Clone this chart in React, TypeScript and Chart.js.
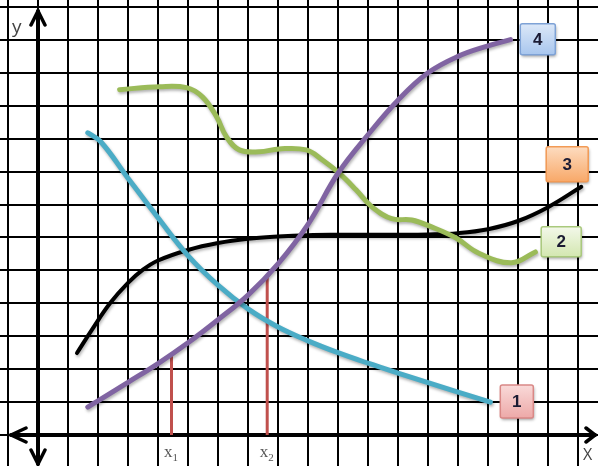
import React, { useEffect, useRef } from "react";
import { Chart, registerables } from "chart.js";

Chart.register(...registerables);

// ---- grid (in grid units) ----
const xGridValues = [-1, 0, 1, 2, 3, 4, 5, 6, 7, 8, 9, 10, 11, 12, 13, 14, 15, 16, 17, 18];
const yGridValues = [0, 1, 2, 3, 4, 5, 6, 7, 8, 9, 10, 11, 12, 13];

// ---- curves ----
const curve1X = [1.66, 2.1, 3.0, 4.0, 5.0, 6.0, 7.0, 8.0, 9.0, 10.0, 11.0, 12.0, 13.0, 14.0, 15.08];
const curve1Y = [9.18, 8.9, 7.8, 6.6, 5.45, 4.55, 3.83, 3.28, 2.86, 2.5, 2.18, 1.88, 1.59, 1.3, 1.0];

const curve2X = [2.72, 4.05, 4.95, 5.48, 5.95, 6.28, 6.71, 7.38, 8.04, 8.94, 9.47, 10.03, 10.6, 11.13, 11.79, 12.46, 13.12, 13.92, 14.68, 15.78, 16.58];
const curve2Y = [10.49, 10.58, 10.55, 10.27, 9.67, 9.06, 8.66, 8.6, 8.69, 8.66, 8.36, 7.96, 7.45, 6.93, 6.57, 6.53, 6.32, 5.99, 5.53, 5.23, 5.56];

const curve3X = [1.3, 1.8, 2.4, 3.0, 3.5, 4.0, 5.0, 6.0, 7.0, 8.0, 9.0, 10.0, 11.0, 12.0, 13.0, 14.0, 15.0, 16.0, 17.0, 18.11];
const curve3Y = [2.49, 3.2, 4.0, 4.62, 5.02, 5.3, 5.62, 5.83, 5.96, 6.03, 6.07, 6.08, 6.08, 6.08, 6.09, 6.13, 6.25, 6.5, 6.92, 7.54];

const curve4X = [1.66, 2.0, 3.0, 4.0, 5.0, 6.0, 7.0, 8.0, 9.0, 10.0, 11.0, 12.0, 13.0, 14.0, 15.0, 15.75];
const curve4Y = [0.85, 1.04, 1.6, 2.17, 2.8, 3.5, 4.25, 5.2, 6.4, 7.95, 9.12, 10.17, 11.0, 11.5, 11.82, 12.01];

const curveNames = ["1", "2", "3", "4"];

// ---- marked x positions ----
const markerX = [4.45, 7.64];
const markerTop = [2.45, 4.85];
const markerLabels = ["x", "x"];
const markerSubs = ["1", "2"];

const axisLabelY = "y";
const axisLabelX = "X";

const X_MIN = -38 / 30;
const X_MAX = (598 - 38) / 30;
const Y_STEP = (435 - 7) / 13;
const Y_MIN = -(466 - 435) / Y_STEP;
const Y_MAX = 435 / Y_STEP;

const pts = (xs: number[], ys: number[]) => xs.map((x, i) => ({ x, y: ys[i] }));

function roundRect(ctx: CanvasRenderingContext2D, x: number, y: number, w: number, h: number, r: number) {
  ctx.beginPath();
  ctx.moveTo(x + r, y);
  ctx.lineTo(x + w - r, y);
  ctx.quadraticCurveTo(x + w, y, x + w, y + r);
  ctx.lineTo(x + w, y + h - r);
  ctx.quadraticCurveTo(x + w, y + h, x + w - r, y + h);
  ctx.lineTo(x + r, y + h);
  ctx.quadraticCurveTo(x, y + h, x, y + h - r);
  ctx.lineTo(x, y + r);
  ctx.quadraticCurveTo(x, y, x + r, y);
  ctx.closePath();
}

export default function App() {
  const ref = useRef<HTMLCanvasElement>(null);

  useEffect(() => {
    const canvas = ref.current!;

    const boxStyles = [
      { cx: 15.96, cy: 1.02, w: 33, h: 33, top: "#F9DAD9", bottom: "#EDA9A8", border: "#D98886" },
      { cx: 17.44, cy: 5.87, w: 40, h: 30, top: "#F3F8EA", bottom: "#D3E7B0", border: "#A9C97C" },
      { cx: 17.64, cy: 8.22, w: 42, h: 35, top: "#FDDCC0", bottom: "#F8A868", border: "#F29A55" },
      { cx: 16.66, cy: 12.02, w: 35, h: 31, top: "#DCE8F8", bottom: "#A8C6EE", border: "#7EA2D6" },
    ];

    const overlay = {
      id: "overlay",
      beforeDatasetsDraw(chart: any) {
        const ctx: CanvasRenderingContext2D = chart.ctx;
        const xs = chart.scales.x;
        const ys = chart.scales.y;
        const x0 = xs.getPixelForValue(0);
        const y0 = ys.getPixelForValue(0);
        const { left, right, top, bottom } = chart.chartArea;
        ctx.save();
        ctx.strokeStyle = "#000";
        ctx.lineCap = "round";
        ctx.lineJoin = "round";
        ctx.lineWidth = 4;
        ctx.beginPath();
        ctx.moveTo(x0, top + 11);
        ctx.lineTo(x0, bottom - 2);
        ctx.stroke();
        ctx.beginPath();
        ctx.moveTo(left + 11, y0);
        ctx.lineTo(right - 3, y0);
        ctx.stroke();
        ctx.lineWidth = 3.5;
        ctx.beginPath();
        ctx.moveTo(x0 - 7, top + 25);
        ctx.lineTo(x0, top + 11);
        ctx.lineTo(x0 + 7, top + 25);
        ctx.moveTo(x0 - 7, bottom - 16);
        ctx.lineTo(x0, bottom - 2);
        ctx.lineTo(x0 + 7, bottom - 16);
        ctx.moveTo(left + 26, y0 - 7);
        ctx.lineTo(left + 11, y0);
        ctx.lineTo(left + 26, y0 + 7);
        ctx.moveTo(right - 12, y0 - 7);
        ctx.lineTo(right - 3, y0);
        ctx.lineTo(right - 12, y0 + 7);
        ctx.stroke();
        ctx.restore();
      },
      beforeDatasetDraw(chart: any, args: any) {
        const ctx: CanvasRenderingContext2D = chart.ctx;
        ctx.save();
        if (args.index < 4) {
          ctx.shadowColor = "rgba(0,0,0,0.3)";
          ctx.shadowBlur = 3;
          ctx.shadowOffsetX = 1;
          ctx.shadowOffsetY = 2;
        }
      },
      afterDatasetDraw(chart: any) {
        chart.ctx.restore();
      },
      afterDraw(chart: any) {
        const ctx: CanvasRenderingContext2D = chart.ctx;
        const xs = chart.scales.x;
        const ys = chart.scales.y;
        const y0 = ys.getPixelForValue(0);
        ctx.save();
        boxStyles.forEach((b, i) => {
          const cx = xs.getPixelForValue(b.cx);
          const cy = ys.getPixelForValue(b.cy);
          const x = cx - b.w / 2;
          const y = cy - b.h / 2;
          ctx.save();
          ctx.shadowColor = "rgba(0,0,0,0.35)";
          ctx.shadowBlur = 3;
          ctx.shadowOffsetX = 1;
          ctx.shadowOffsetY = 2;
          const g = ctx.createLinearGradient(0, y, 0, y + b.h);
          g.addColorStop(0, b.top);
          g.addColorStop(1, b.bottom);
          ctx.fillStyle = g;
          roundRect(ctx, x, y, b.w, b.h, 2);
          ctx.fill();
          ctx.restore();
          ctx.strokeStyle = b.border;
          ctx.lineWidth = 1.5;
          roundRect(ctx, x, y, b.w, b.h, 2);
          ctx.stroke();
          ctx.fillStyle = "#1b1b33";
          ctx.font = 'bold 17px "Liberation Sans", sans-serif';
          ctx.textAlign = "center";
          ctx.textBaseline = "middle";
          ctx.fillText(curveNames[i], cx, cy + 1);
        });
        ctx.fillStyle = "#555";
        ctx.textBaseline = "alphabetic";
        markerX.forEach((mx, i) => {
          const px = xs.getPixelForValue(mx);
          ctx.font = '17px "Liberation Serif", serif';
          ctx.textAlign = "right";
          ctx.fillText(markerLabels[i], px + 1, y0 + 22);
          ctx.font = '11px "Liberation Serif", serif';
          ctx.textAlign = "left";
          ctx.fillText(markerSubs[i], px + 1, y0 + 26);
        });
        ctx.fillStyle = "#444";
        ctx.font = '19px "Open Sans", sans-serif';
        ctx.textAlign = "left";
        ctx.fillText(axisLabelY, 12, 33);
        ctx.font = '16px "Open Sans", sans-serif';
        ctx.fillText(axisLabelX, 583, 460);
        ctx.restore();
      },
    };

    const lineDefaults = {
      pointRadius: 0,
      tension: 0.4,
      borderCapStyle: "round" as const,
      borderJoinStyle: "round" as const,
      fill: false,
    };

    const chart = new Chart(canvas, {
      type: "line",
      data: {
        datasets: [
          { ...lineDefaults, label: curveNames[0], data: pts(curve1X, curve1Y), borderColor: "#4BACC6", borderWidth: 5, order: 3 },
          { ...lineDefaults, label: curveNames[1], data: pts(curve2X, curve2Y), borderColor: "#9BBB59", borderWidth: 5, order: 2 },
          { ...lineDefaults, label: curveNames[2], data: pts(curve3X, curve3Y), borderColor: "#000000", borderWidth: 4, order: 5 },
          { ...lineDefaults, label: curveNames[3], data: pts(curve4X, curve4Y), borderColor: "#8064A2", borderWidth: 5, order: 1 },
          { ...lineDefaults, tension: 0, label: "x1", data: [{ x: markerX[0], y: 0 }, { x: markerX[0], y: markerTop[0] }], borderColor: "#C0504D", borderWidth: 3, borderCapStyle: "butt", order: 4 },
          { ...lineDefaults, tension: 0, label: "x2", data: [{ x: markerX[1], y: 0 }, { x: markerX[1], y: markerTop[1] }], borderColor: "#C0504D", borderWidth: 3, borderCapStyle: "butt", order: 4 },
        ],
      },
      options: {
        animation: false,
        responsive: false,
        events: [],
        layout: { padding: 0 },
        plugins: { legend: { display: false }, tooltip: { enabled: false } },
        scales: {
          x: {
            type: "linear",
            min: X_MIN,
            max: X_MAX,
            ticks: { display: false },
            border: { display: false },
            grid: { color: "#000", lineWidth: 2, drawTicks: false },
            afterBuildTicks: (s: any) => {
              s.ticks = xGridValues.map((v) => ({ value: v }));
            },
            afterFit: (s: any) => {
              s.height = 0;
            },
          },
          y: {
            type: "linear",
            min: Y_MIN,
            max: Y_MAX,
            ticks: { display: false },
            border: { display: false },
            grid: { color: "#000", lineWidth: 2, drawTicks: false },
            afterBuildTicks: (s: any) => {
              s.ticks = yGridValues.map((v) => ({ value: v }));
            },
            afterFit: (s: any) => {
              s.width = 0;
            },
          },
        },
      },
      plugins: [overlay],
    });

    return () => chart.destroy();
  }, []);

  return (
    <div style={{ position: "absolute", left: 0, top: 0, width: 598, height: 466, background: "#fff" }}>
      <canvas ref={ref} width={598} height={466} style={{ display: "block", width: 598, height: 466 }} />
    </div>
  );
}
